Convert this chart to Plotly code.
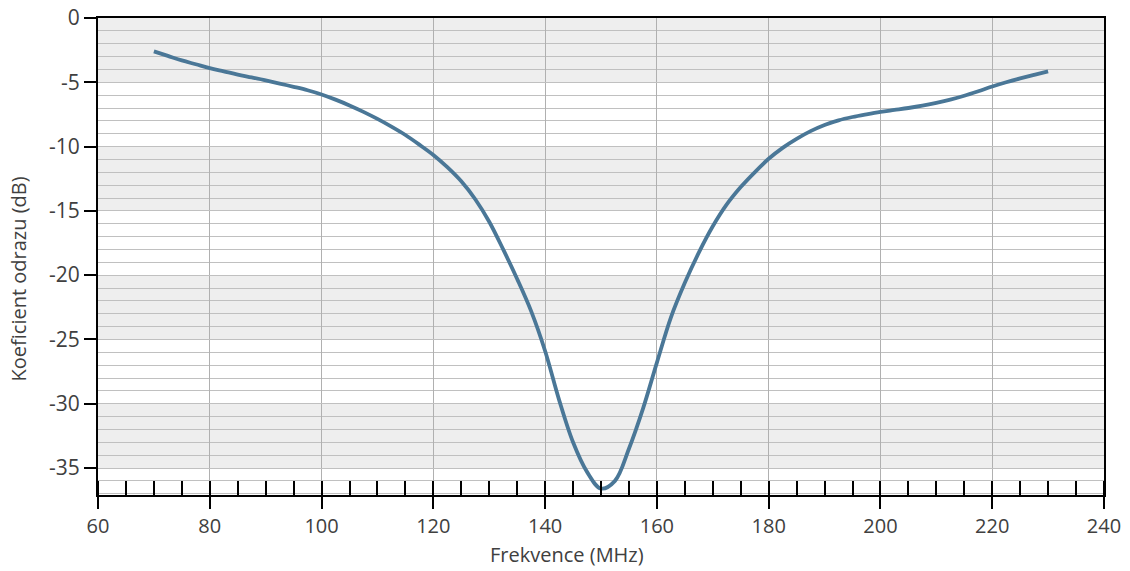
import plotly.graph_objects as go

freq_mhz = [70, 72.5, 75, 77.5, 80, 82.5, 85, 87.5, 90, 92.5, 95, 97.5, 100,
            102.5, 105, 107.5, 110, 112.5, 115, 117.5, 120, 122.5, 125, 127.5,
            130, 132.5, 135, 137.5, 140, 142.5, 145, 147.5, 150, 152.5, 155,
            157.5, 160, 162.5, 165, 167.5, 170, 172.5, 175, 177.5, 180, 182.5,
            185, 187.5, 190, 192.5, 195, 197.5, 200, 202.5, 205, 207.5, 210,
            212.5, 215, 217.5, 220, 222.5, 225, 227.5, 230]
refl_db = [-2.6, -2.95, -3.3, -3.6, -3.9, -4.15, -4.4, -4.62, -4.85, -5.1, -5.35,
           -5.62, -5.95, -6.35, -6.8, -7.3, -7.85, -8.45, -9.1, -9.85, -10.65,
           -11.6, -12.7, -14.1, -15.85, -18.0, -20.3, -22.8, -25.9, -29.7, -33.0,
           -35.3, -36.6, -36.0, -33.5, -30.4, -26.8, -23.3, -20.6, -18.25,
           -16.2, -14.5, -13.15, -12.0, -10.95, -10.1, -9.4, -8.8, -8.32, -7.96,
           -7.7, -7.49, -7.3, -7.15, -7.0, -6.82, -6.6, -6.35, -6.05, -5.7, -5.33,
           -5.0, -4.7, -4.42, -4.15]

x_ticks = [60, 80, 100, 120, 140, 160, 180, 200, 220, 240]
y_ticks = [0, -5, -10, -15, -20, -25, -30, -35]
y_tick_text = ["0", "-5", "-10", "-15", "-20", "-25", "-30", "-35"]
y_min = -37.1

x_title = "Frekvence (MHz)"
y_title = "Koeficient odrazu (dB)"

font_family = "Open Sans, Noto Sans, sans-serif"
text_color = "#404040"

fig = go.Figure()
fig.add_trace(go.Scatter(
    x=freq_mhz, y=refl_db, mode="lines",
    line=dict(color="#4a7797", width=3.8, shape="spline", smoothing=1.0),
    hoverinfo="x+y", showlegend=False,
))

# alternating grey bands every 5 dB
shapes = []
for i in range(0, len(y_ticks), 2):
    top = y_ticks[i]
    bot = y_ticks[i + 1] if i + 1 < len(y_ticks) else y_min
    shapes.append(dict(type="rect", xref="paper", yref="y", x0=0, x1=1,
                       y0=bot, y1=top, fillcolor="#eeeeee", line=dict(width=0),
                       layer="below"))

annotations = [
    dict(text=x_title, xref="paper", yref="paper", x=0.466, y=-0.124,
         xanchor="center", yanchor="middle", showarrow=False,
         font=dict(size=20, color=text_color)),
    dict(text=y_title, xref="paper", yref="paper", x=-0.079, y=0.453,
         xanchor="center", yanchor="middle", showarrow=False, textangle=-90,
         font=dict(size=20, color=text_color)),
]

fig.update_layout(
    width=1130, height=571,
    margin=dict(l=98, r=26, t=18, b=76, autoexpand=False),
    paper_bgcolor="white", plot_bgcolor="white",
    font=dict(family=font_family, size=18, color=text_color),
    shapes=shapes,
    annotations=annotations,
    xaxis=dict(
        range=[60, 240], tickvals=x_ticks, ticks="outside", ticklen=12,
        tickwidth=1.5, tickcolor="black", automargin=False,
        ticklabeloverflow="allow",
        showgrid=True, gridcolor="#b0b0b0", gridwidth=1,
        showline=True, linecolor="black", linewidth=2.2, mirror=True,
        zeroline=False,
        minor=dict(dtick=5, tick0=60, ticks="inside", ticklen=14,
                   tickcolor="black", tickwidth=1.5, showgrid=False),
        tickfont=dict(size=20, color=text_color),
    ),
    yaxis=dict(
        range=[y_min, 0], tickvals=y_ticks, ticktext=y_tick_text,
        ticks="outside", ticklen=12, automargin=False,
        ticklabeloverflow="allow",
        tickwidth=1.5, tickcolor="black",
        showgrid=True, gridcolor="#c0c0c0", gridwidth=1,
        showline=True, linecolor="black", linewidth=2.2, mirror=True,
        zeroline=False,
        minor=dict(dtick=1, tick0=0, showgrid=True, gridcolor="#c0c0c0",
                   gridwidth=1, ticks=""),
        tickfont=dict(size=21, color=text_color),
    ),
)

# remove the default page margin so the figure fills the window exactly
fig.write_html("out.html", config={"displayModeBar": False},
               post_script="document.body.style.margin='0px';")
